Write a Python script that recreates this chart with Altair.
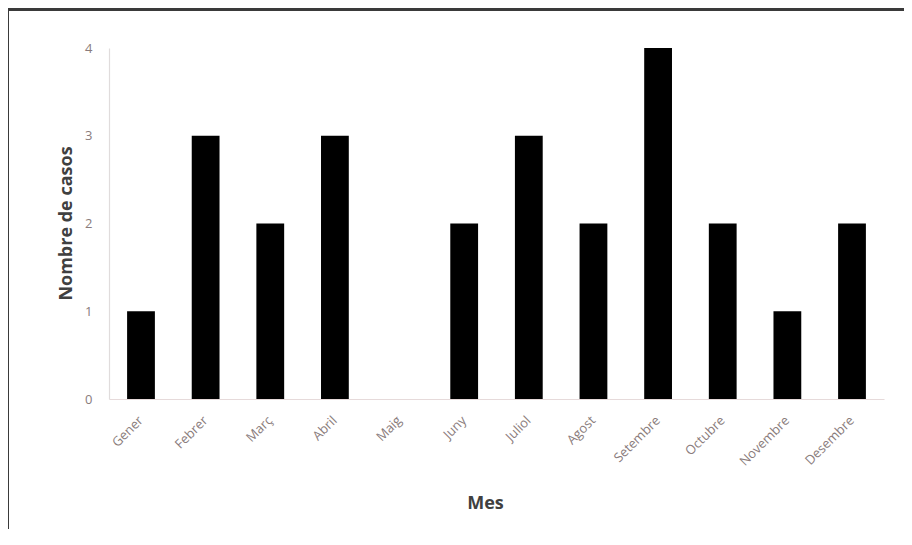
import altair as alt
import pandas as pd

months = ["Gener", "Febrer", "Març", "Abril", "Maig", "Juny", "Juliol",
          "Agost", "Setembre", "Octubre", "Novembre", "Desembre"]
cases = [1, 3, 2, 3, 0, 2, 3, 2, 4, 2, 1, 2]

df = pd.DataFrame({"Mes": months, "Casos": cases})

W, H = 775, 351

bars = alt.Chart(df).mark_bar(color="black").encode(
    x=alt.X("Mes:N", sort=months,
            scale=alt.Scale(paddingInner=0.57, paddingOuter=0.28),
            axis=alt.Axis(title="Mes", labelAngle=-45, labelAlign="right",
                          labelBaseline="middle", labelPadding=19, ticks=False,
                          domainColor="#e6dada", domainWidth=1.2,
                          labelColor="#8a7c7c", labelFont="Open Sans", labelFontSize=13,
                          titleFont="Open Sans", titleFontSize=18, titleFontWeight="bold",
                          titleColor="#404040", titleX=376, titleY=104,
                          titleBaseline="middle")),
    y=alt.Y("Casos:Q", scale=alt.Scale(domain=[0, 4]),
            axis=alt.Axis(title="Nombre de casos", values=[0, 1, 2, 3, 4], format="d",
                          grid=False, ticks=False, labelPadding=17,
                          domainColor="#e0dcdc", domainWidth=1.2,
                          labelColor="#8a7c7c", labelFont="Open Sans", labelFontSize=13,
                          titleFont="Open Sans", titleFontSize=18, titleFontWeight="bold",
                          titleColor="#404040", titleX=-43, titleY=175,
                          titleBaseline="middle")),
)

frame_top = alt.Chart(df).mark_rule(color="#3a3a3a", strokeWidth=2).encode(
    x=alt.value(-101), x2=alt.value(900), y=alt.value(-38.5))
frame_left = alt.Chart(df).mark_rule(color="#3a3a3a", strokeWidth=2).encode(
    x=alt.value(-101.5), y=alt.value(-39), y2=alt.value(600))

chart = alt.layer(bars, frame_top, frame_left).properties(
    width=W, height=H,
    background="white",
    autosize=alt.AutoSizeParams(type="none"),
    padding={"left": 101, "top": 40, "right": 20, "bottom": 130},
).configure_view(stroke="transparent", strokeWidth=0)

chart.save("out.html", embed_options={"renderer": "svg", "actions": False})
